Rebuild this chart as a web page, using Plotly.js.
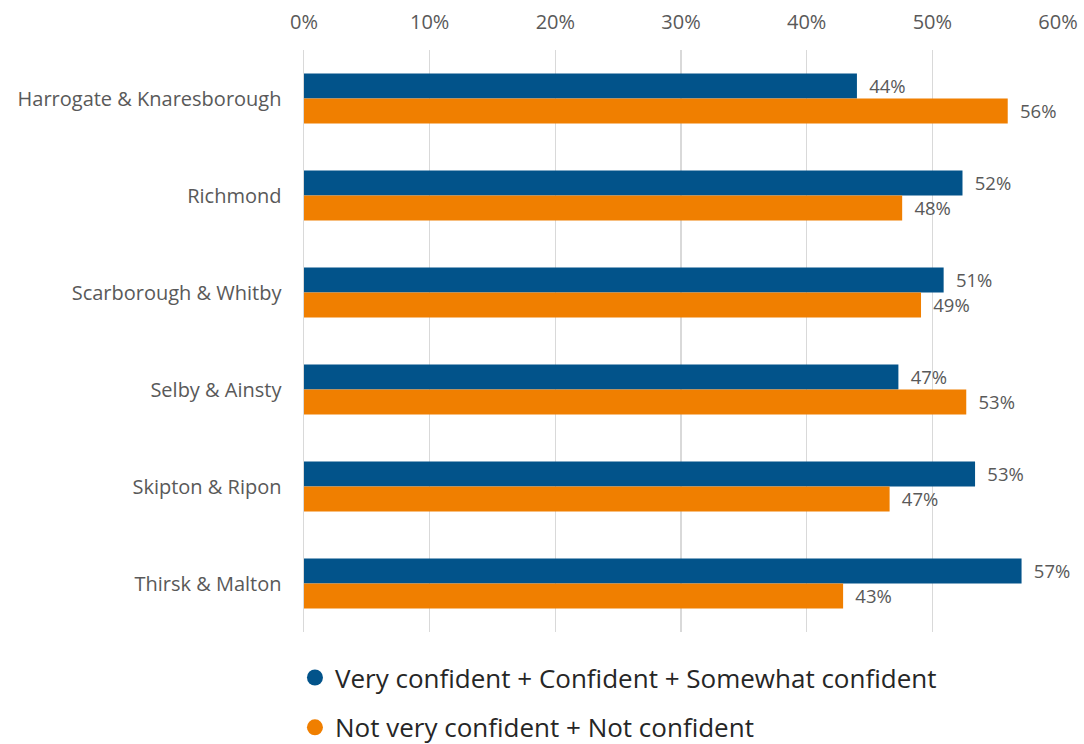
<!DOCTYPE html>
<html>
<head>
<meta charset="utf-8">
<script src="https://cdn.plot.ly/plotly-3.0.1.min.js"></script>
<style>html,body{margin:0;padding:0;background:#fff;}#chart{width:1084px;height:744px;}</style>
</head>
<body>
<div id="chart"></div>
<script>
const categories = ["Harrogate & Knaresborough", "Richmond", "Scarborough & Whitby", "Selby & Ainsty", "Skipton & Ripon", "Thirsk & Malton"];
const confidentValues = [44.0, 52.4, 50.9, 47.3, 53.4, 57.1];
const notConfidentValues = [56.0, 47.6, 49.1, 52.7, 46.6, 42.9];
const seriesNames = ["Very confident + Confident + Somewhat confident", "Not very confident + Not confident"];
const tickValues = [0, 10, 20, 30, 40, 50, 60];
const tickLabels = ["0%", "10%", "20%", "30%", "40%", "50%", "60%"];

const colors = ["#02538a", "#f07f00"];
const labelFont = {family: "Open Sans, sans-serif", size: 20, color: "#595959"};

function barTrace(vals, i) {
  return {
    type: "bar", orientation: "h", y: categories, x: vals, name: seriesNames[i],
    marker: {color: colors[i]}, showlegend: false,
    text: vals.map(v => Math.round(v) + "%"),
    texttemplate: "\u2002%{text}", textposition: "outside", cliponaxis: false,
    textfont: labelFont, hoverinfo: "x+y"
  };
}
function legendTrace(i) {
  return {
    type: "scatter", mode: "markers", x: [null], y: [null], name: seriesNames[i],
    legendgroup: "g" + i, marker: {color: colors[i], size: 20, symbol: "circle"}
  };
}

const data = [barTrace(confidentValues, 0), barTrace(notConfidentValues, 1), legendTrace(0), legendTrace(1)];

const layout = {
  width: 1084, height: 744,
  margin: {l: 304, r: 26, t: 50, b: 112, autoexpand: false},
  paper_bgcolor: "#ffffff", plot_bgcolor: "#ffffff",
  barmode: "group", bargap: 0.485, bargroupgap: 0,
  xaxis: {
    side: "top", range: [0, 60], tickvals: tickValues, ticktext: tickLabels,
    showgrid: true, gridcolor: "#d9d9d9", gridwidth: 1.5, zeroline: false,
    showline: false, ticks: "", tickfont: labelFont, ticklabelstandoff: 16, fixedrange: true
  },
  yaxis: {
    autorange: "reversed", type: "category", showgrid: false, zeroline: false,
    showline: true, linecolor: "#d9d9d9", linewidth: 1.5,
    ticks: "", tickfont: {family: "Open Sans, sans-serif", size: 20, color: "#595959"},
    ticklabelstandoff: 17, fixedrange: true
  },
  showlegend: true,
  legend: {
    x: -0.012, xanchor: "left", y: -0.038, yanchor: "top", orientation: "v",
    font: {family: "Open Sans, sans-serif", size: 26, color: "#262626"},
    tracegroupgap: 13, itemsizing: "trace", bgcolor: "rgba(0,0,0,0)"
  }
};

Plotly.newPlot("chart", data, layout, {displayModeBar: false, staticPlot: true});
</script>
</body>
</html>
